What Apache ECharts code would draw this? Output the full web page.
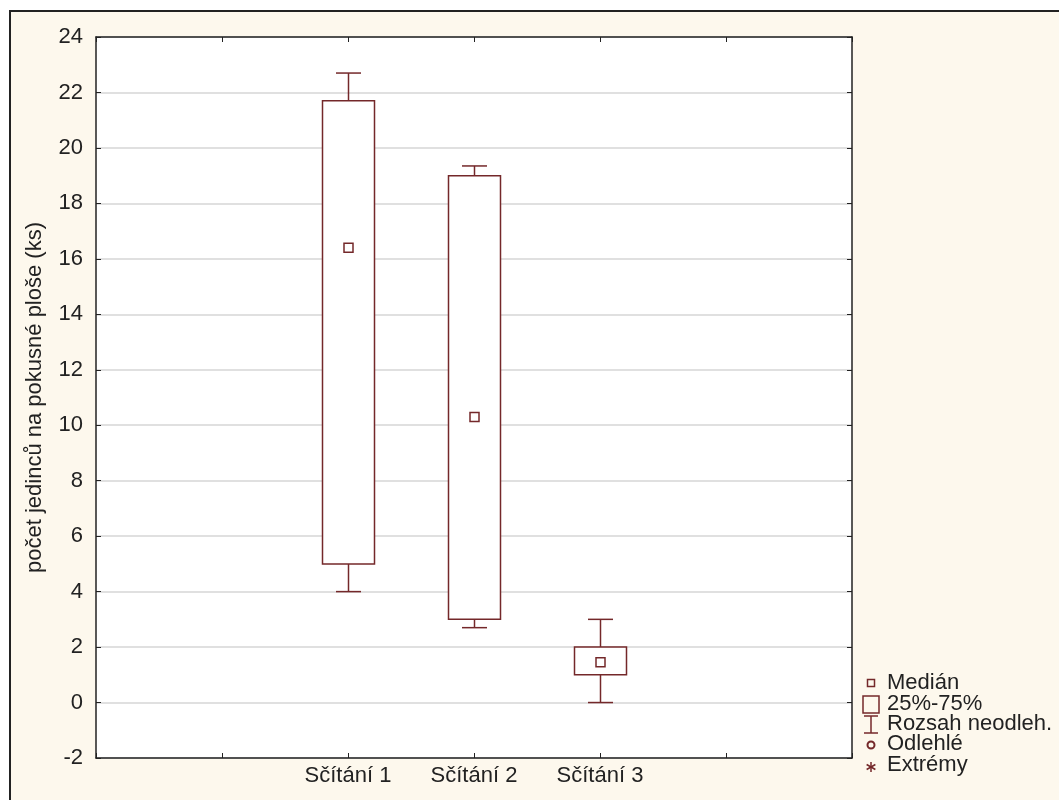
<!DOCTYPE html>
<html>
<head>
<meta charset="utf-8">
<script src="https://cdn.jsdelivr.net/npm/echarts@6/dist/echarts.min.js"></script>
<style>
  html, body { margin: 0; padding: 0; background: #ffffff; }
  #frame { position: absolute; left: 9px; top: 10px; width: 1050px; height: 790px;
           background: #fdf8ed; border-top: 2px solid #222; border-left: 2px solid #222; box-sizing: border-box; }
  #chart { position: absolute; left: 0; top: 0; width: 1059px; height: 800px; }
</style>
</head>
<body>
<div id="frame"></div>
<div id="chart"></div>
<script>
// ---- data ----
const groups = ['Sčítání 1', 'Sčítání 2', 'Sčítání 3'];
const axisCategories = ['', '', 'Sčítání 1', 'Sčítání 2', 'Sčítání 3', '', ''];
const mins    = [4.0, 2.7, 0.0];
const q1s     = [5.0, 3.0, 1.0];
const medians = [16.4, 10.3, 1.45];
const q3s     = [21.7, 19.0, 2.0];
const maxs    = [22.7, 19.35, 3.0];
const yTicks  = { min: -2, max: 24, interval: 2 };
const yTitle  = 'počet jedinců na pokusné ploše (ks)';
const legendLabels = ['Medián', '25%-75%', 'Rozsah neodleh.', 'Odlehlé', 'Extrémy'];

const boxData = groups.map((g, i) => [axisCategories.indexOf(g), mins[i], q1s[i], medians[i], q3s[i], maxs[i]]);

const MAROON = '#74282a';
const FONT = 'Liberation Sans, Arial, sans-serif';

function renderBox(params, api) {
  const x = api.value(0);
  const pMin = api.coord([x, api.value(1)]);
  const pQ1  = api.coord([x, api.value(2)]);
  const pMed = api.coord([x, api.value(3)]);
  const pQ3  = api.coord([x, api.value(4)]);
  const pMax = api.coord([x, api.value(5)]);
  const cx = Math.round(pMin[0]) + 0.5;
  const hb = 26, hc = 12.5, hm = 4.5;
  const ls = { stroke: MAROON, lineWidth: 1.5 };
  return {
    type: 'group',
    children: [
      { type: 'line', shape: { x1: cx, y1: pQ3[1], x2: cx, y2: pMax[1] }, style: ls },
      { type: 'line', shape: { x1: cx - hc, y1: pMax[1], x2: cx + hc, y2: pMax[1] }, style: ls },
      { type: 'line', shape: { x1: cx, y1: pQ1[1], x2: cx, y2: pMin[1] }, style: ls },
      { type: 'line', shape: { x1: cx - hc, y1: pMin[1], x2: cx + hc, y2: pMin[1] }, style: ls },
      { type: 'rect', shape: { x: cx - hb, y: pQ3[1], width: hb * 2, height: pQ1[1] - pQ3[1] },
        style: { fill: '#ffffff', stroke: MAROON, lineWidth: 1.5 } },
      { type: 'rect', shape: { x: cx - hm, y: pMed[1] - hm, width: hm * 2, height: hm * 2 },
        style: { fill: '#ffffff', stroke: MAROON, lineWidth: 1.5 } }
    ]
  };
}

// legend built as graphic elements
const LX = 871, LTX = 887;
const ly = [683, 704, 724, 744, 765];
const lstyle = { stroke: MAROON, lineWidth: 1.5, fill: 'none' };
const ast = 5;
const legendGraphics = [
  { type: 'rect', shape: { x: LX - 3.5, y: ly[0] - 3.5, width: 7, height: 7 }, style: lstyle },
  { type: 'rect', shape: { x: LX - 8, y: ly[1] - 8, width: 16, height: 17 }, style: lstyle },
  { type: 'line', shape: { x1: LX, y1: ly[2] - 8, x2: LX, y2: ly[2] + 9 }, style: lstyle },
  { type: 'line', shape: { x1: LX - 7, y1: ly[2] - 8, x2: LX + 7, y2: ly[2] - 8 }, style: lstyle },
  { type: 'line', shape: { x1: LX - 7, y1: ly[2] + 9, x2: LX + 7, y2: ly[2] + 9 }, style: lstyle },
  { type: 'circle', shape: { cx: LX, cy: ly[3] + 1, r: 3.5 }, style: { stroke: MAROON, lineWidth: 2, fill: 'none' } },
  { type: 'line', shape: { x1: LX, y1: ly[4] + 2 - ast, x2: LX, y2: ly[4] + 2 + ast }, style: lstyle },
  { type: 'line', shape: { x1: LX - ast * 0.87, y1: ly[4] + 2 - ast * 0.5, x2: LX + ast * 0.87, y2: ly[4] + 2 + ast * 0.5 }, style: lstyle },
  { type: 'line', shape: { x1: LX - ast * 0.87, y1: ly[4] + 2 + ast * 0.5, x2: LX + ast * 0.87, y2: ly[4] + 2 - ast * 0.5 }, style: lstyle }
].concat(legendLabels.map((t, i) => ({
  type: 'text', x: LTX, y: ly[i],
  style: { text: t, fill: '#222', font: '22px ' + FONT, align: 'left', verticalAlign: 'middle' }
})));

const chart = echarts.init(document.getElementById('chart'), null, { renderer: 'canvas' });
const axisLineStyle = { show: true, onZero: false, lineStyle: { color: '#222', width: 1.5 } };
const tickStyle = { show: true, inside: true, length: 5, lineStyle: { color: '#222', width: 1 } };

chart.setOption({
  backgroundColor: 'transparent',
  animation: false,
  grid: { left: 96, right: 207, top: 37, bottom: 42, show: true, backgroundColor: '#ffffff', borderWidth: 0 },
  xAxis: [
    { type: 'category', data: axisCategories, boundaryGap: false, position: 'bottom',
      axisLine: axisLineStyle, axisTick: Object.assign({}, tickStyle, { alignWithLabel: true }),
      axisLabel: { color: '#222', fontSize: 22, fontFamily: FONT, margin: 7, interval: 0 },
      splitLine: { show: false } },
    { type: 'category', data: axisCategories, boundaryGap: false, position: 'top',
      axisLine: axisLineStyle, axisTick: tickStyle, axisLabel: { show: false }, splitLine: { show: false } }
  ],
  yAxis: [
    { type: 'value', min: yTicks.min, max: yTicks.max, interval: yTicks.interval, position: 'left',
      name: yTitle, nameLocation: 'middle', nameGap: 50, nameRotate: 90,
      nameTextStyle: { color: '#222', fontSize: 22, fontFamily: FONT },
      axisLine: axisLineStyle, axisTick: tickStyle,
      axisLabel: { color: '#222', fontSize: 22, fontFamily: FONT, margin: 13 },
      splitLine: { show: true, lineStyle: { color: '#d6d6d6', width: 1.5 } } },
    { type: 'value', min: yTicks.min, max: yTicks.max, interval: yTicks.interval, position: 'right',
      axisLine: axisLineStyle, axisTick: tickStyle, axisLabel: { show: false }, splitLine: { show: false } }
  ],
  series: [{
    type: 'custom', name: 'box', xAxisIndex: 0, yAxisIndex: 0,
    encode: { x: 0, y: [1, 2, 3, 4, 5] },
    renderItem: renderBox,
    data: boxData,
    z: 5
  }],
  graphic: legendGraphics
});
</script>
</body>
</html>
